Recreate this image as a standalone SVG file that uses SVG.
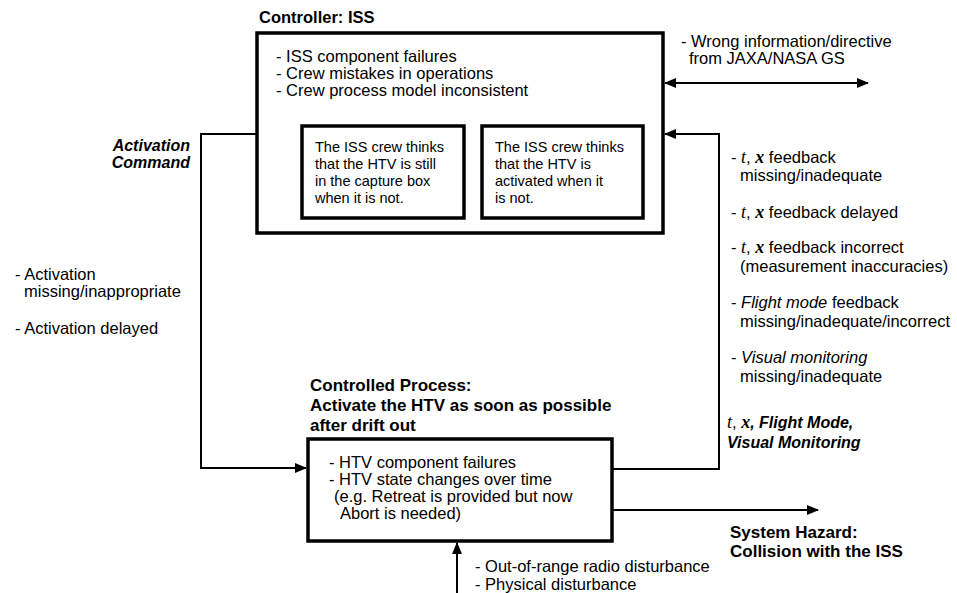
<svg xmlns="http://www.w3.org/2000/svg" width="957" height="593" viewBox="0 0 957 593">
<defs>
<marker id="ah" markerUnits="userSpaceOnUse" markerWidth="12" markerHeight="10" refX="11" refY="5" orient="auto-start-reverse">
<path d="M0,0 L12,5 L0,10 z" fill="#000"/>
</marker>
<style>
text{font-family:"Liberation Sans",Arial,sans-serif;font-size:16.5px;fill:#000}
.b{font-weight:bold;font-size:17px}
.bi{font-weight:bold;font-style:italic;font-size:16px}
.it{font-style:italic}
.m{font-family:"Liberation Serif","Times New Roman",serif;font-style:italic;font-size:18px}
.mx{font-family:"Liberation Serif","Times New Roman",serif;font-style:italic;font-weight:bold;font-size:18px}
.box{fill:#fff;stroke:#000;stroke-width:3.5}
.c{fill:none;stroke:#000;stroke-width:2}
.in{font-size:14.5px}
</style>
</defs>
<rect width="957" height="593" fill="#fff"/>
<g id="connectors">
<polyline class="c" points="257,134 201,134 201,468 306,468" marker-end="url(#ah)"/>
<polyline class="c" points="612,469 719,469 719,134 665,134" marker-end="url(#ah)"/>
<line class="c" x1="665" y1="83" x2="868" y2="83" marker-start="url(#ah)" marker-end="url(#ah)"/>
<line class="c" x1="612" y1="510" x2="818" y2="510" marker-end="url(#ah)"/>
<line class="c" x1="457" y1="593" x2="457" y2="543" marker-end="url(#ah)"/>
</g>
<g id="controller">
<text class="b" x="259" y="23" style="font-size:16.5px">Controller: ISS</text>
<rect class="box" x="257" y="33" width="406" height="200"/>
<text x="276" y="62">- ISS component failures</text>
<text x="276" y="79">- Crew mistakes in operations</text>
<text x="276" y="96">- Crew process model inconsistent</text>
</g>
<g id="pm1">
<rect class="box" x="302" y="126" width="162" height="92"/>
<text class="in" x="315" y="152">The ISS crew thinks</text>
<text class="in" x="315" y="169">that the HTV is still</text>
<text class="in" x="315" y="186">in the capture box</text>
<text class="in" x="315" y="203">when it is not.</text>
</g>
<g id="pm2">
<rect class="box" x="482" y="126" width="161" height="92"/>
<text class="in" x="495" y="152">The ISS crew thinks</text>
<text class="in" x="495" y="169">that the HTV is</text>
<text class="in" x="495" y="186">activated when it</text>
<text class="in" x="495" y="203">is not.</text>
</g>
<g id="process">
<text class="b" x="310" y="391">Controlled Process:</text>
<text class="b" x="310" y="411">Activate the HTV as soon as possible</text>
<text class="b" x="310" y="431">after drift out</text>
<rect class="box" x="308" y="439" width="304" height="102"/>
<text x="329" y="468">- HTV component failures</text>
<text x="329" y="485">- HTV state changes over time</text>
<text x="334" y="502">(e.g. Retreat is provided but now</text>
<text x="340" y="519">Abort is needed)</text>
</g>
<g id="labels">
<text class="bi" x="190" y="151" text-anchor="end">Activation</text>
<text class="bi" x="190" y="168" text-anchor="end">Command</text>
<text x="15" y="280">- Activation</text>
<text x="24" y="297">missing/inappropriate</text>
<text x="15" y="334">- Activation delayed</text>
<text x="681" y="47">- Wrong information/directive</text>
<text x="689" y="64">from JAXA/NASA GS</text>
<text x="731" y="163">- <tspan class="m">t</tspan>, <tspan class="mx">x</tspan> feedback</text>
<text x="740" y="181">missing/inadequate</text>
<text x="731" y="218">- <tspan class="m">t</tspan>, <tspan class="mx">x</tspan> feedback delayed</text>
<text x="731" y="253">- <tspan class="m">t</tspan>, <tspan class="mx">x</tspan> feedback incorrect</text>
<text x="740" y="272">(measurement inaccuracies)</text>
<text x="731" y="308">- <tspan class="it">Flight mode</tspan> feedback</text>
<text x="740" y="327">missing/inadequate/incorrect</text>
<text x="731" y="363">- <tspan class="it">Visual monitoring</tspan></text>
<text x="740" y="382">missing/inadequate</text>
<text x="727" y="428"><tspan class="m">t</tspan>, <tspan class="mx">x</tspan><tspan class="bi">, Flight Mode,</tspan></text>
<text class="bi" x="727" y="448">Visual Monitoring</text>
<text class="b" x="730" y="538">System Hazard:</text>
<text class="b" x="730" y="557">Collision with the ISS</text>
<text x="475" y="572">- Out-of-range radio disturbance</text>
<text x="475" y="590">- Physical disturbance</text>
</g>
</svg>
